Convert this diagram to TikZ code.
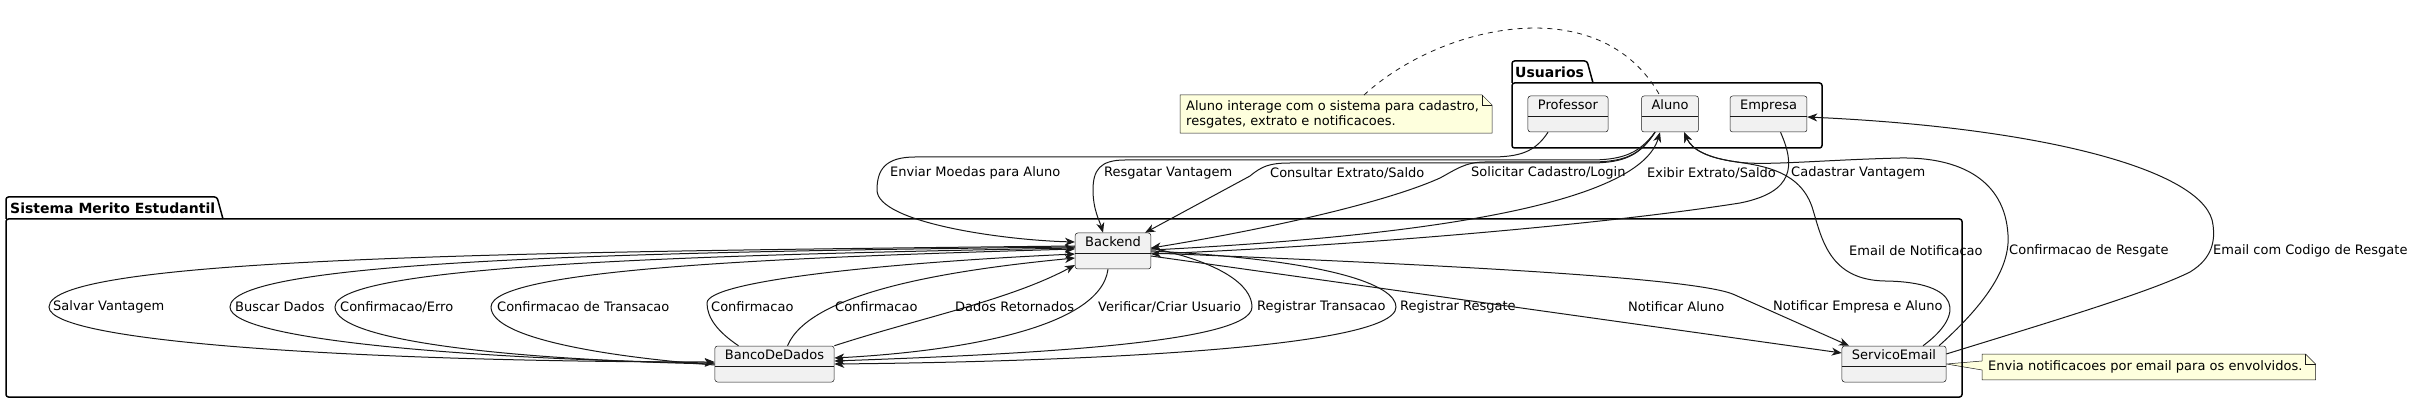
\documentclass[tikz,border=0pt]{standalone}
\usepackage{fontspec}
\setmainfont{DejaVu Sans}
\usetikzlibrary{arrows.meta,backgrounds}
\definecolor{boxfill}{HTML}{F1F1F1}
\definecolor{boxline}{HTML}{181818}
\definecolor{notefill}{HTML}{FEFFDD}
\definecolor{edgecol}{HTML}{181818}
\begin{document}
\begin{tikzpicture}[x=1pt, y=-1pt, >={Stealth[length=10pt,width=8pt,inset=3pt]},
  font=\fontsize{13}{15.2}\selectfont,
  cls/.style={draw=boxline, line width=.5pt, fill=boxfill, rounded corners=2.5pt,
    inner xsep=10pt, inner ysep=3.5pt, text height=10pt, text depth=19pt,
    path picture={\draw[boxline, line width=.5pt]
      ([yshift=-20pt]path picture bounding box.north west) --
      ([yshift=-20pt]path picture bounding box.north east);}},
  pkg/.style={draw=black, line width=1.5pt},
  pkgtxt/.style={anchor=west, inner sep=0pt, font=\fontsize{14}{16}\selectfont\bfseries},
  lbl/.style={anchor=west, inner sep=0pt},
  link/.style={draw=edgecol, line width=1pt, ->},
  notebox/.style={draw=boxline, fill=notefill, line width=.5pt},
  notetxt/.style={anchor=north west, align=left, inner xsep=6pt, inner ysep=5pt}]
\useasboundingbox (0,0) rectangle (2414,403);

% packages
\draw[pkg, rounded corners=2.5pt] (6,219) rectangle (1962,397);
\draw[pkg, rounded corners=2.5pt] (6,219) -- (6,197) -- (217,197) [sharp corners] -- (223,219);
\node[pkgtxt] (tsis) at (10,208) {Sistema Merito Estudantil};
\draw[pkg, rounded corners=2.5pt] (1512,83) rectangle (1822,148);
\draw[pkg, rounded corners=2.5pt] (1512,83) -- (1512,61) -- (1587,61) [sharp corners] -- (1593,83);
\node[pkgtxt] (tusu) at (1515,72) {Usuarios};

% classes
\node[cls] (prof) at (1568,114) {Professor};
\node[cls] (aluno) at (1670,114) {Aluno};
\node[cls] (emp) at (1768.5,114) {Empresa};
\node[cls] (be) at (1113,251) {Backend};
\node[cls] (db) at (774.5,364) {BancoDeDados};
\node[cls] (mail) at (1894,364) {ServicoEmail};

% notes
\node[notetxt] (n1) at (1180,95) {Aluno interage com o sistema para cadastro,\\resgates, extrato e notificacoes.};
\node[notetxt, inner ysep=6.5pt] (n2) at (1982,354) {Envia notificacoes por email para os envolvidos.};
\begin{scope}[on background layer]
\draw[notebox] (n1.north west) -- ([xshift=-3pt]n1.north east) -- ([xshift=7pt,yshift=-10pt]n1.north east)
  -- ([xshift=7pt]n1.south east) -- (n1.south west) -- cycle;
\draw[notebox, fill=none] ([xshift=-3pt]n1.north east) -- ([xshift=-3pt,yshift=-10pt]n1.north east)
  -- ([xshift=7pt,yshift=-10pt]n1.north east);
\draw[notebox] (n2.north west) -- ([xshift=-3pt]n2.north east) -- ([xshift=7pt,yshift=-10pt]n2.north east)
  -- ([xshift=7pt]n2.south east) -- (n2.south west) -- ([yshift=-3pt]n2.west) -- (mail.east)
  -- ([yshift=6pt]n2.west) -- cycle;
\draw[notebox, fill=none] ([xshift=-3pt]n2.north east) -- ([xshift=-3pt,yshift=-10pt]n2.north east)
  -- ([xshift=7pt,yshift=-10pt]n2.north east);
\end{scope}
\draw[boxline, line width=.8pt, dash pattern=on 5pt off 5pt] ([xshift=184pt]n1.north west)
  .. controls (1440,25) and (1600,-12) .. ([xshift=-10pt]aluno.north);

% Usuarios <-> Backend
\draw[link] ([xshift=-20pt]prof.south) .. controls (1535,152) and (1520,157) .. (1490,157) -- (915,157)
  .. controls (885,157) and (877,170) .. (877,190) .. controls (877,222) and (1000,240) .. ([yshift=9pt]be.west);
\draw[link] ([xshift=-15pt]aluno.south) .. controls (1640,152) and (1625,160) .. (1590,160) -- (1125,160)
  .. controls (1100,160) and (1093,170) .. (1093,190) .. controls (1093,210) and (1100,222) .. ([xshift=-10pt]be.north);
\draw[link] ([xshift=-15pt]aluno.south) .. controls (1640,155) and (1625,163) .. (1590,163) -- (1290,163)
  .. controls (1270,163) and (1262,166) .. (1250,176) -- ([xshift=32pt]be.north);
\draw[link] ([xshift=-15pt]aluno.south) .. controls (1640,155) and (1625,162) .. (1590,162) -- (1485,162)
  .. controls (1465,162) and (1455,170) .. (1440,178) .. controls (1380,205) and (1250,232) .. ([yshift=3pt]be.east);
\draw[link] ([yshift=1pt]be.east) .. controls (1450,235) and (1640,200) .. ([xshift=-10pt]aluno.south);
\draw[link] ([xshift=12pt]emp.south) .. controls (1795,165) and (1795,192) .. (1740,203)
  .. controls (1600,225) and (1350,246) .. ([yshift=-3pt]be.east);
\node[lbl] (lenv) at (890,173) {Enviar Moedas para Aluno};
\node[lbl] (lres) at (1104,173) {Resgatar Vantagem};
\node[lbl] (lcon) at (1270,173) {Consultar Extrato/Saldo};
\node[lbl] (lsol) at (1471,173) {Solicitar Cadastro/Login};
\node[lbl] (lexi) at (1647,173) {Exibir Extrato/Saldo};
\node[lbl] (lcad) at (1791,173) {Cadastrar Vantagem};

% ServicoEmail -> Usuarios
\draw[link] ([xshift=29pt]mail.north) .. controls (1965,315) and (1962,282) .. (1885,281)
  .. controls (1830,280) and (1822,240) .. (1813,210) .. controls (1802,172) and (1765,166) .. (1737,162)
  .. controls (1708,158) and (1692,150) .. ([xshift=14pt]aluno.south);
\draw[link] ([xshift=45pt]mail.north) .. controls (1990,300) and (2010,265) .. (2008,235)
  .. controls (2005,180) and (1960,157) .. (1900,158) .. controls (1820,160) and (1765,166) .. (1737,162)
  .. controls (1708,158) and (1692,150) .. ([xshift=14pt]aluno.south);
\draw[link] ([yshift=10pt]mail.east) .. controls (2050,322) and (2150,292) .. (2190,272)
  .. controls (2213,258) and (2215,240) .. (2213,225) .. controls (2208,172) and (2050,128) .. ([yshift=-3pt]emp.east);
\node[lbl] (lnot) at (1849,251) {Email de Notificacao};
\node[lbl] (lcfr) at (2009,251) {Confirmacao de Resgate};
\node[lbl] (lcod) at (2213,251) {Email com Codigo de Resgate};

% Backend <-> BancoDeDados
\draw[link] ([yshift=5pt]be.west) .. controls (500,252) and (49,258) .. (49,307)
  .. controls (49,345) and (400,362) .. ([yshift=2pt]db.west);
\draw[link] ([yshift=4pt]be.west) .. controls (600,252) and (230,262) .. (230,307)
  .. controls (230,342) and (500,360) .. ([yshift=1pt]db.west);
\draw[link] (db.west) .. controls (520,360) and (335,342) .. (335,307)
  .. controls (335,265) and (700,255) .. ([yshift=3pt]be.west);
\draw[link] ([yshift=-1pt]db.west) .. controls (620,358) and (491,340) .. (491,307)
  .. controls (491,268) and (800,257) .. ([yshift=2pt]be.west);
\draw[link] ([xshift=-36pt]db.north) .. controls (718,332) and (707,318) .. (707,303)
  .. controls (707,280) and (900,262) .. ([yshift=-3pt]be.west);
\draw[link] ([xshift=13pt]db.north) .. controls (810,292) and (950,270) .. ([yshift=-7pt]be.west);
\draw[link] (db.north east) .. controls (920,318) and (1010,300) .. ([yshift=-14pt]be.west);
\draw[link] ([xshift=-5pt]be.south) .. controls (1100,330) and (950,352) .. ([yshift=6pt]db.east);
\draw[link] ([yshift=3pt]be.east) .. controls (1220,262) and (1252,285) .. (1252,307)
  .. controls (1252,345) and (1000,355) .. ([yshift=3pt]db.east);
\draw[link] (be.east) .. controls (1330,260) and (1396,285) .. (1396,307)
  .. controls (1396,350) and (1050,362) .. (db.east);
\node[lbl] (lsal) at (53,307) {Salvar Vantagem};
\node[lbl] (lbus) at (235,307) {Buscar Dados};
\node[lbl] (lerr) at (340,307) {Confirmacao/Erro};
\node[lbl] (ltra) at (497,307) {Confirmacao de Transacao};
\node[lbl] (lcf1) at (711,307) {Confirmacao};
\node[lbl] (lcf2) at (835,307) {Confirmacao};
\node[lbl] (ldad) at (955,307) {Dados Retornados};
\node[lbl] (lver) at (1098,307) {Verificar/Criar Usuario};
\node[lbl] (lrtr) at (1257,307) {Registrar Transacao};
\node[lbl] (lrrs) at (1400,307) {Registrar Resgate};

% Backend -> ServicoEmail
\draw[link] ([yshift=-5pt]be.east) -- ([yshift=11pt]mail.west);
\draw[link] ([yshift=-2pt]be.east) .. controls (1450,265) and (1700,278) .. (1735,295) -- ([xshift=-45pt]mail.north);
\node[lbl] (lna) at (1628,307) {Notificar Aluno};
\node[lbl] (lnea) at (1773,307) {Notificar Empresa e Aluno};
\end{tikzpicture}
\end{document}
